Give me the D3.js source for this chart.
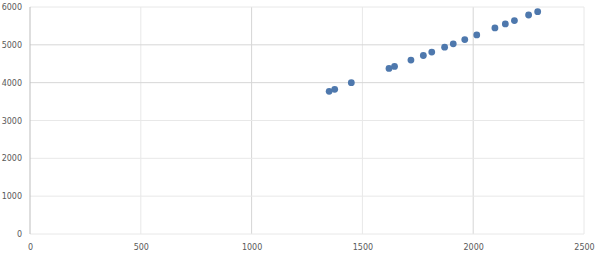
<!DOCTYPE html>
<html>
<head>
<meta charset="utf-8">
<script src="https://cdn.jsdelivr.net/npm/d3@7"></script>
<style>
  body { margin: 0; background: #fff; }
  text { font-family: "DejaVu Sans", sans-serif; }
</style>
</head>
<body>
<svg id="chart" width="602" height="261"></svg>
<script>
// values
const xValues = [1350, 1375, 1450, 1620, 1645, 1719, 1775, 1813, 1871, 1910, 1962, 2016, 2098, 2145, 2186, 2250, 2291];
const yValues = [3771, 3824, 4000, 4376, 4429, 4597, 4718, 4808, 4939, 5026, 5139, 5263, 5447, 5553, 5640, 5789, 5876];
const xTicks = [0, 500, 1000, 1500, 2000, 2500];
const yTicks = [0, 1000, 2000, 3000, 4000, 5000, 6000];

const points = xValues.map((x, i) => ({ x: x, y: yValues[i] }));

const margin = { top: 7, right: 18, bottom: 27, left: 30 };
const width = 602, height = 261;

const svg = d3.select("#chart");

const x = d3.scaleLinear().domain([0, 2500]).range([margin.left, width - margin.right]);
const y = d3.scaleLinear().domain([0, 6000]).range([height - margin.bottom, margin.top]);

// gridlines
const grid = svg.append("g");
grid.selectAll("line.v")
  .data(xTicks.slice(1))
  .enter()
  .append("line")
  .attr("x1", (d) => x(d))
  .attr("x2", (d) => x(d))
  .attr("y1", y(0))
  .attr("y2", y(6000))
  .attr("stroke", (d) => (d % 1000 === 0 ? "#d6d6d6" : "#e8e8e8"))
  .attr("stroke-width", 1);

grid.selectAll("line.h")
  .data(yTicks)
  .enter()
  .append("line")
  .attr("x1", x(0))
  .attr("x2", x(2500))
  .attr("y1", (d) => y(d))
  .attr("y2", (d) => y(d))
  .attr("stroke", (d) => (d === 4000 || d === 5000 ? "#d6d6d6" : "#e8e8e8"))
  .attr("stroke-width", 1);

// left axis line
svg.append("line")
  .attr("x1", x(0))
  .attr("x2", x(0))
  .attr("y1", y(0))
  .attr("y2", y(6000))
  .attr("stroke", "#bdbdbd");

// axes (labels only)
const xAxis = svg.append("g")
  .attr("transform", `translate(0,${y(0) + 7})`)
  .call(d3.axisBottom(x).tickValues(xTicks).tickSize(0).tickFormat(d3.format("d")));
const yAxis = svg.append("g")
  .attr("transform", `translate(${x(0) - 5},0)`)
  .call(d3.axisLeft(y).tickValues(yTicks).tickSize(0).tickFormat(d3.format("d")));

[xAxis, yAxis].forEach((g) => {
  g.select(".domain").remove();
  g.selectAll("text")
    .attr("fill", "#595959")
    .style("font-size", "8px");
});

// points
svg.append("g")
  .selectAll("circle")
  .data(points)
  .enter()
  .append("circle")
  .attr("cx", (d) => x(d.x))
  .attr("cy", (d) => y(d.y))
  .attr("r", 3.4)
  .attr("fill", "#4e78ad");
</script>
</body>
</html>
